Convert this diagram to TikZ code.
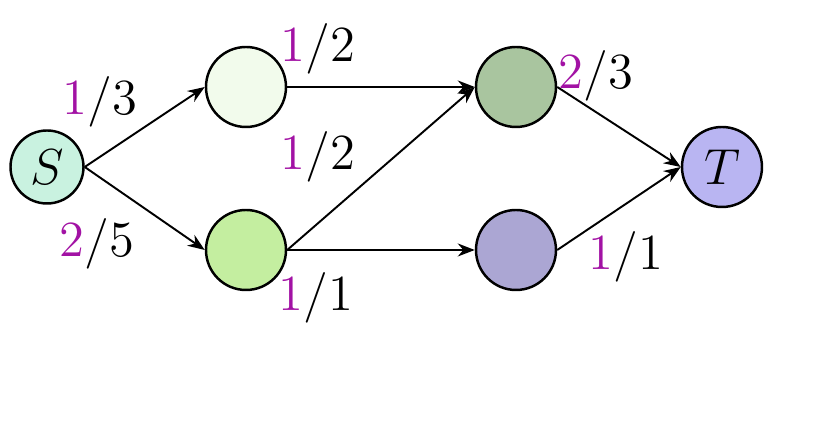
\documentclass[tikz,border=0pt]{standalone}
\usetikzlibrary{arrows.meta}

\definecolor{flowpurple}{RGB}{162,18,164}
\definecolor{srcfill}{RGB}{201,242,224}
\definecolor{afill}{RGB}{242,251,236}
\definecolor{bfill}{RGB}{196,238,160}
\definecolor{cfill}{RGB}{169,197,159}
\definecolor{dfill}{RGB}{171,166,211}
\definecolor{sinkfill}{RGB}{185,181,242}

\newcommand{\flowlab}[2]{$\textcolor{flowpurple}{#1}/#2$}

\begin{document}
\begin{tikzpicture}[
  font=\fontsize{14.5}{17}\selectfont,
  vert/.style={circle, draw, line width=0.7pt, minimum size=8mm, inner sep=0pt},
  flow/.style={-{Stealth[length=1.7mm, width=1.3mm]}, line width=0.55pt},
  caplab/.style={inner sep=0pt},
]
  \useasboundingbox (0,0) rectangle (8.13,4.22);

  \node[vert, fill=srcfill, minimum size=7.3mm] (s) at (0.47,2.55) {$S$};
  \node[vert, fill=afill] (a) at (2.46,3.35) {};
  \node[vert, fill=bfill] (b) at (2.46,1.72) {};
  \node[vert, fill=cfill] (c) at (5.16,3.35) {};
  \node[vert, fill=dfill] (d) at (5.16,1.72) {};
  \node[vert, fill=sinkfill] (t) at (7.22,2.55) {$T$};

  \draw[flow] (s.east) -- (a.west);
  \draw[flow] (s.east) -- (b.west);
  \draw[flow] (a.east) -- (c.west);
  \draw[flow] (b.east) -- (c.west);
  \draw[flow] (b.east) -- (d.west);
  \draw[flow] (c.east) -- (t.west);
  \draw[flow] (d.east) -- (t.west);

  % flow / capacity
  \node[caplab] (lsa) at (1.00,3.20) {\flowlab{1}{3}};
  \node[caplab] (lsb) at (0.97,1.78) {\flowlab{2}{5}};
  \node[caplab] (lac) at (3.18,3.73) {\flowlab{1}{2}};
  \node[caplab] (lbc) at (3.18,2.65) {\flowlab{1}{2}};
  \node[caplab] (lbd) at (3.16,1.24) {\flowlab{1}{1}};
  \node[caplab] (lct) at (5.96,3.46) {\flowlab{2}{3}};
  \node[caplab] (ldt) at (6.26,1.65) {\flowlab{1}{1}};
\end{tikzpicture}
\end{document}
